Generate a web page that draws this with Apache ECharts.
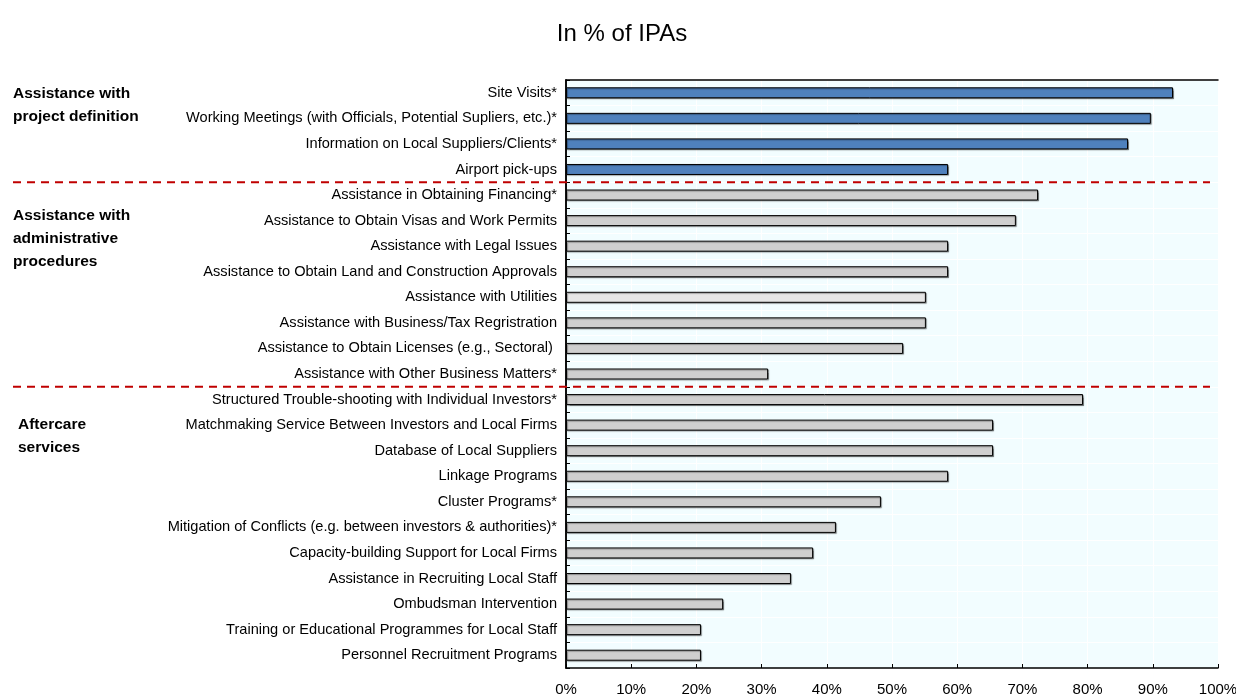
<!DOCTYPE html>
<html>
<head>
<meta charset="utf-8">
<script src="https://cdn.jsdelivr.net/npm/echarts@6/dist/echarts.min.js"></script>
<style>
html, body { margin: 0; padding: 0; background: #fff; }
#chart { width: 1236px; height: 699px; }
</style>
</head>
<body>
<div id="chart"></div>
<script>
// categories, top to bottom
const categories = [
  'Site Visits*',
  'Working Meetings (with Officials, Potential Supliers, etc.)*',
  'Information on Local Suppliers/Clients*',
  'Airport pick-ups',
  'Assistance in Obtaining Financing*',
  'Assistance to Obtain Visas and Work Permits',
  'Assistance with Legal Issues',
  'Assistance to Obtain Land and Construction Approvals',
  'Assistance with Utilities',
  'Assistance with Business/Tax Regristration',
  'Assistance to Obtain Licenses (e.g., Sectoral) ',
  'Assistance with Other Business Matters*',
  'Structured Trouble-shooting with Individual Investors*',
  'Matchmaking Service Between Investors and Local Firms',
  'Database of Local Suppliers',
  'Linkage Programs',
  'Cluster Programs*',
  'Mitigation of Conflicts (e.g. between investors & authorities)*',
  'Capacity-building Support for Local Firms',
  'Assistance in Recruiting Local Staff',
  'Ombudsman Intervention',
  'Training or Educational Programmes for Local Staff',
  'Personnel Recruitment Programs'
];
// share of IPAs, %
const values = [93.1, 89.7, 86.2, 58.6, 72.4, 69.0, 58.6, 58.6, 55.2, 55.2, 51.7, 31.0,
  79.3, 65.5, 65.5, 58.6, 48.3, 41.4, 37.9, 34.5, 24.1, 20.7, 20.7];
// group of each category: 0 project definition, 1 administrative, 2 aftercare
const groups = [0, 0, 0, 0, 1, 1, 1, 1, 1, 1, 1, 1, 2, 2, 2, 2, 2, 2, 2, 2, 2, 2, 2];
const groupNames = [
  'Assistance with\nproject definition',
  'Assistance with\nadministrative\nprocedures',
  'Aftercare\nservices'
];
const xTicks = [0, 10, 20, 30, 40, 50, 60, 70, 80, 90, 100];

const FONT = '"Liberation Sans", Arial, sans-serif';

const chart = echarts.init(document.getElementById('chart'));

const barData = values.map((v, i) => {
  let color = groups[i] === 0 ? '#4F81BD' : '#CFCFCF';
  if (categories[i] === 'Assistance with Utilities') color = '#E6E6E6';
  return { value: v, itemStyle: { color: color } };
});

const frameLine = { show: true, lineStyle: { color: '#000', width: 1.5 } };

chart.setOption({
  animation: false,
  textStyle: { fontFamily: FONT },
  title: {
    text: 'In % of IPAs',
    left: 617,
    top: 17,
    textAlign: 'center',
    textStyle: { fontFamily: FONT, fontSize: 24, fontWeight: 'normal', color: '#000' }
  },
  grid: {
    left: 566,
    right: 18,
    top: 80,
    bottom: 31,
    outerBoundsMode: 'none',
    containLabel: false,
    show: true,
    backgroundColor: '#F2FDFF',
    borderWidth: 0
  },
  xAxis: [{
    type: 'value',
    min: 0,
    max: 100,
    interval: 10,
    axisLine: frameLine,
    axisTick: { show: true, inside: true, length: 4, lineStyle: { color: '#000' } },
    axisLabel: {
      margin: 14,
      fontSize: 15,
      color: '#000',
      fontFamily: FONT,
      formatter: v => xTicks.indexOf(v) >= 0 ? v + '%' : ''
    },
    splitLine: { show: true, lineStyle: { color: '#fff', width: 1 } }
  }, {
    type: 'value',
    position: 'top',
    min: 0,
    max: 100,
    axisLine: frameLine,
    axisTick: { show: false },
    axisLabel: { show: false },
    splitLine: { show: false }
  }],
  yAxis: [{
    type: 'category',
    inverse: true,
    data: categories,
    axisLine: frameLine,
    axisTick: { show: true, inside: true, length: 4, lineStyle: { color: '#000' } },
    axisLabel: { margin: 9, fontSize: 14.6, color: '#000', fontFamily: FONT },
    splitLine: { show: true, lineStyle: { color: '#fff', width: 1 } }
  }, {
    type: 'category',
    position: 'right',
    inverse: true,
    data: categories,
    axisLine: frameLine,
    axisTick: { show: false },
    axisLabel: { show: false },
    splitLine: { show: false }
  }],
  series: [{
    type: 'bar',
    data: barData,
    barWidth: 11,
    itemStyle: {
      borderColor: '#000',
      borderWidth: 1,
      shadowColor: 'rgba(0,0,0,0.35)',
      shadowOffsetX: 1,
      shadowOffsetY: 1,
      shadowBlur: 1
    }
  }]
});

// separators between groups and the group names, placed via the axis scale
function drawGroups () {
  const elements = [];
  const lineYs = [];
  for (let i = 1; i < categories.length; i++) {
    if (groups[i] !== groups[i - 1]) {
      const a = chart.convertToPixel({ yAxisIndex: 0 }, i - 1);
      const b = chart.convertToPixel({ yAxisIndex: 0 }, i);
      lineYs.push((a + b) / 2);
    }
  }
  lineYs.forEach(y => {
    elements.push({
      type: 'line',
      shape: { x1: 13, y1: y, x2: 1210, y2: y },
      style: { stroke: '#C00000', lineWidth: 2, lineDash: [8, 6] },
      z: 10
    });
  });
  const labelPos = [
    { x: 13, y: 82 },
    { x: 13, y: 204 },
    { x: 18, y: 413 }
  ];
  groupNames.forEach((name, g) => {
    elements.push({
      type: 'text',
      left: labelPos[g].x,
      top: labelPos[g].y,
      style: {
        text: name,
        fontFamily: FONT,
        fontSize: 15.5,
        fontWeight: 'bold',
        lineHeight: 23,
        fill: '#000'
      }
    });
  });
  chart.setOption({ graphic: elements });
}
drawGroups();
</script>
</body>
</html>
